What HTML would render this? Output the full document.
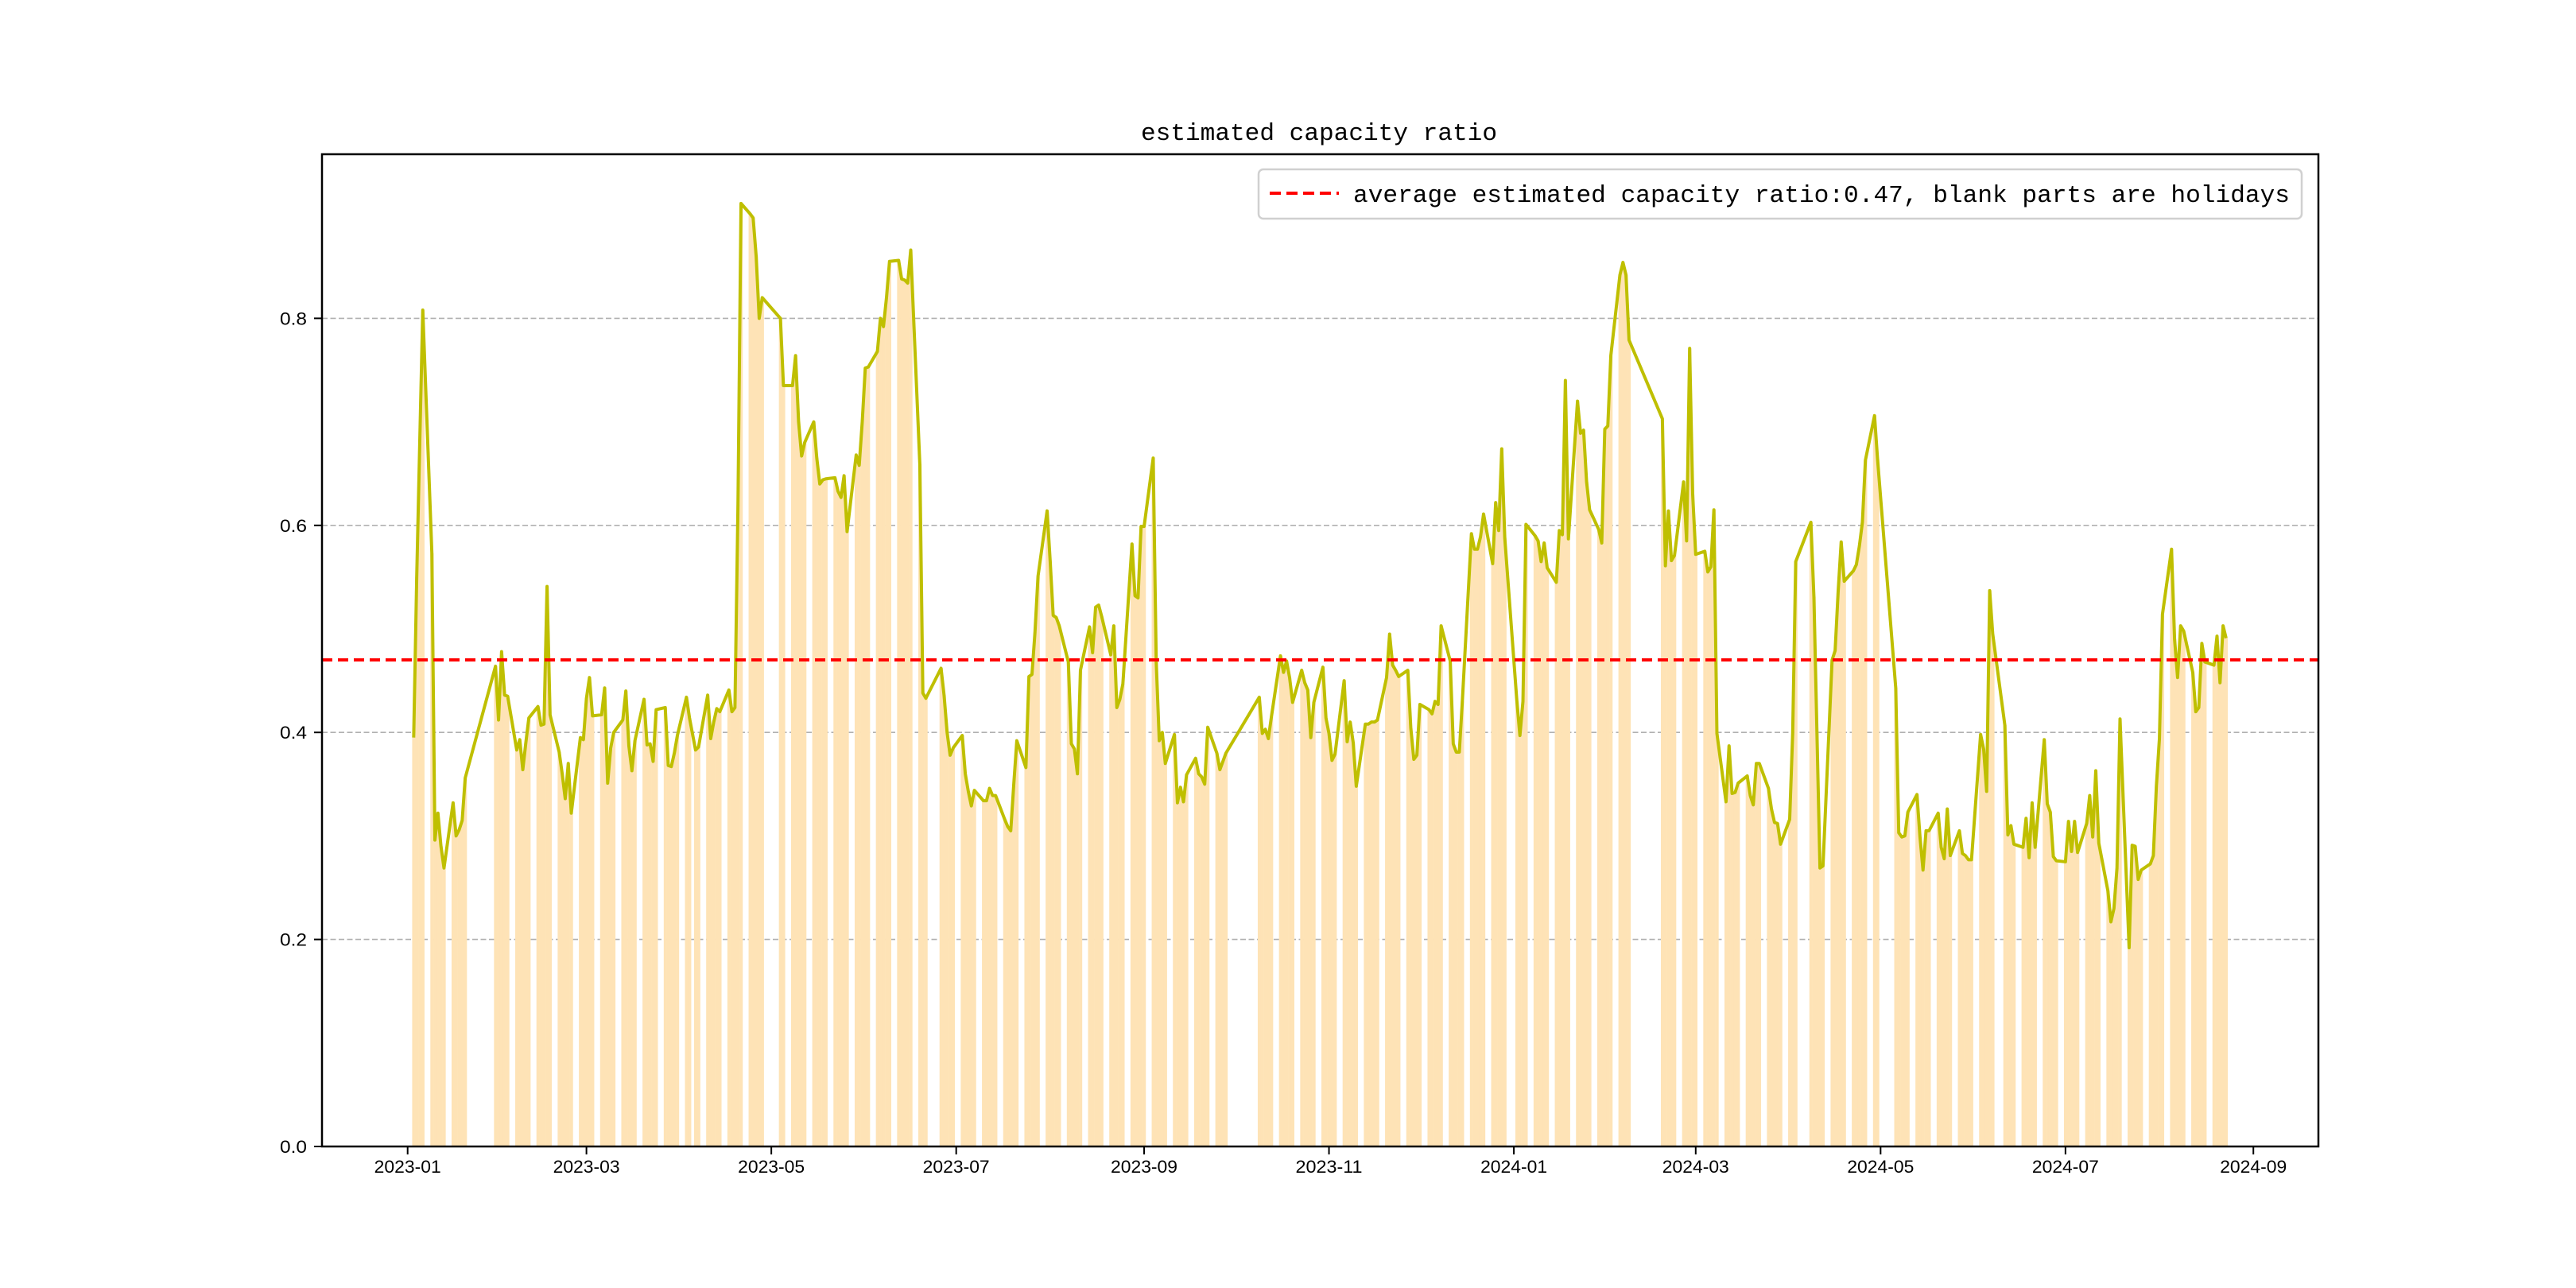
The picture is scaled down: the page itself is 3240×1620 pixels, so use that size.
<!DOCTYPE html>
<html><head><meta charset="utf-8"><style>
html,body{margin:0;padding:0;background:#fff;}
svg{display:block;}
text{font-family:"Liberation Sans","Noto Sans CJK SC",sans-serif;fill:#000;}
.mono{font-family:"Liberation Mono","Noto Sans CJK SC",monospace;}
</style></head><body>
<svg id="chart" width="3240" height="1620" viewBox="0 0 3240 1620" xmlns="http://www.w3.org/2000/svg">
<rect x="0" y="0" width="3240" height="1620" fill="#fff"/>
<g id="grid"></g>
<g id="bars"></g>
<g id="lines"></g>
<rect x="405" y="194" width="2511" height="1248" fill="none" stroke="#000" stroke-width="2.5"/>
<g id="yticks"></g>
<g id="xticks"></g>
<text class="mono" x="1659" y="176" text-anchor="middle" font-size="31" textLength="448" lengthAdjust="spacingAndGlyphs">estimated capacity ratio</text>
<g>
<rect x="1583" y="213" width="1312" height="62" rx="6" fill="#fff" fill-opacity="0.8" stroke="#d0d0d0" stroke-width="2.5"/>
<line x1="1597" y1="243" x2="1684" y2="243" stroke="#ff0000" stroke-width="4" stroke-dasharray="14,7"/>
<text class="mono" x="1702" y="254" font-size="31" textLength="1178" lengthAdjust="spacingAndGlyphs">average estimated capacity ratio:0.47, blank parts are holidays</text>
</g>
</svg>
<script>
const values = [
0.395,0.55,0.68,0.808, 0.573,0.296,0.322,0.29,0.269, 0.332,0.30,0.306,0.315,0.356,
0.464,0.412,0.478,0.436,0.435,
0.383,0.393,0.364,0.39,0.414,
0.425,0.407,0.408,0.541,0.417,
0.381,0.36,0.336,0.37,0.322,
0.395,0.393,0.433,0.453,0.416,
0.417,0.443,0.351,0.385,0.40,
0.412,0.44,0.387,0.363,0.392,
0.432,0.388,0.389,0.372,0.422,
0.424,0.368,0.367,0.38,0.397,
0.434,0.414,0.383,0.386,
0.436,0.394,0.41,0.423,0.42,
0.441,0.42,0.424,0.62,0.911,
0.901,0.897,0.86,0.80,0.82,
0.80,0.735,
0.735,0.764,0.70,0.667,0.68,
0.70,0.665,0.64,0.644,0.645,
0.646,0.633,0.627,0.648,0.594,
0.668,0.658,0.70,0.752,0.753,
0.768,0.80,0.792,0.82,0.855,
0.856,0.838,0.837,0.834,0.866,
0.659,0.438,0.433,
0.462,0.436,0.40,0.378,0.385,
0.397,0.36,0.343,0.329,0.344,
0.334,0.334,0.346,0.339,0.339,
0.316,0.309,0.305,0.35,0.392,
0.366,0.454,0.456,0.497,0.551,
0.614,0.566,0.513,0.511,0.503,
0.468,0.389,0.384,0.36,0.46,
0.502,0.477,0.521,0.523,0.512,
0.475,0.503,0.424,0.432,0.447,
0.582,0.532,0.53,0.599,0.599,
0.665,0.468,0.392,0.40,0.37,
0.398,0.332,0.347,0.333,0.359,
0.375,0.36,0.357,0.35,0.405,
0.38,0.364,0.372,0.38,
0.434,0.399,0.403,0.394,0.415,
0.474,0.458,0.469,0.453,0.429,
0.46,0.448,0.441,0.395,0.429,
0.463,0.414,0.399,0.373,0.379,
0.45,0.391,0.41,0.39,0.348,
0.408,0.408,0.41,0.41,0.412,
0.453,0.495,0.465,0.46,0.454,
0.46,0.404,0.374,0.378,0.427,
0.422,0.418,0.43,0.427,0.503,
0.469,0.389,0.381,0.381,0.43,
0.592,0.577,0.577,0.589,0.611,
0.563,0.622,0.595,0.674,0.588,
0.43,0.397,0.43,0.601,
0.59,0.585,0.565,0.583,0.559,
0.545,0.595,0.591,0.74,0.587,
0.72,0.689,0.692,0.642,0.615,
0.596,0.583,0.693,0.696,0.764,
0.842,0.854,0.842,0.779,
0.703,0.561,0.614,0.566,0.571,
0.642,0.585,0.771,0.63,0.572,
0.575,0.555,0.56,0.615,0.399,
0.333,0.387,0.341,0.342,0.351,
0.358,0.339,0.33,0.37,0.37,
0.346,0.326,0.313,0.312,0.292,
0.316,0.399,0.565,
0.603,0.531,0.40,0.269,0.271,
0.47,0.479,0.536,0.584,0.546,
0.556,0.562,0.58,0.603,0.663,
0.706,0.664,
0.443,0.303,0.299,0.30,0.323,
0.34,0.299,0.267,0.305,0.305,
0.322,0.289,0.278,0.326,0.281,
0.305,0.283,0.281,0.277,0.277,
0.398,0.384,0.343,0.537,0.495,
0.407,0.301,0.31,0.292,
0.289,0.317,0.279,0.332,0.289,
0.393,0.331,0.323,0.28,0.276,
0.275,0.314,0.285,0.314,0.284,
0.312,0.339,0.299,0.363,0.293,
0.247,0.217,0.23,0.269,0.413,
0.192,0.291,0.29,0.258,0.267,
0.273,0.281,0.348,0.394,0.514,
0.577,0.49,0.453,0.503,0.498,
0.458,0.42,0.424,0.486,0.468,
0.465,0.493,0.448,0.503,0.491
];
const averageRatio = 0.47;
const startDate = "2023-01-03";
const endDate = "2024-08-23";
const holidays = ["2023-01-02","2023-01-23","2023-01-24","2023-01-25","2023-01-26","2023-01-27","2023-04-05","2023-05-01","2023-05-02","2023-05-03","2023-06-22","2023-06-23","2023-09-29","2023-10-02","2023-10-03","2023-10-04","2023-10-05","2023-10-06","2024-01-01","2024-02-09","2024-02-12","2024-02-13","2024-02-14","2024-02-15","2024-02-16","2024-04-04","2024-04-05","2024-05-01","2024-05-02","2024-05-03","2024-06-10"];
const yTicks = [0.0,0.2,0.4,0.6,0.8];
const yTickLabels = ["0.0","0.2","0.4","0.6","0.8"];
const xTickLabels = ["2023-01","2023-03","2023-05","2023-07","2023-09","2023-11","2024-01","2024-03","2024-05","2024-07","2024-09"];

const NS = "http://www.w3.org/2000/svg";
const DAY = 86400000;
const epoch = Date.UTC(2023,0,1);
function dayNum(s){const p=s.split("-").map(Number);return (Date.UTC(p[0],p[1]-1,p[2]||1)-epoch)/DAY;}
function xScale(d){return 512.7+3.812*d;}
function yScale(v){return 1442-1302*v;}
function mk(tag,attrs,parent){const e=document.createElementNS(NS,tag);for(const k in attrs)e.setAttribute(k,attrs[k]);parent.appendChild(e);return e;}

// trading days
const hol = new Set(holidays);
const days = [];
for(let d=dayNum(startDate); d<=dayNum(endDate); d++){
  const dt=new Date(epoch+d*DAY); const wd=dt.getUTCDay();
  const iso=dt.toISOString().slice(0,10);
  if(wd===0||wd===6||hol.has(iso))continue;
  days.push(d);
}
const n = Math.min(days.length, values.length);

const grid=document.getElementById('grid');
yTicks.forEach((v,i)=>{
  if(v===0)return;
  const l=mk('line',{x1:405,x2:2916,y1:yScale(v),y2:yScale(v),stroke:'#b0b0b0','stroke-width':1.6,'stroke-dasharray':'7,3.5'},grid);
  
  
});

const bars=document.getElementById('bars');
for(let i=0;i<n;i++){
  const d=days[i];
  const r=mk('rect',{x:xScale(d-0.5),y:yScale(values[i]),width:3.812*1.0+0.3,height:yScale(0)-yScale(values[i]),fill:'#fee3b6'},bars);
  
  
}

const lines=document.getElementById('lines');
const pts=[];
for(let i=0;i<n;i++)pts.push(xScale(days[i]).toFixed(2)+','+yScale(values[i]).toFixed(2));
const pl=mk('polyline',{points:pts.join(' '),fill:'none',stroke:'#bfbf00','stroke-width':4,'stroke-linejoin':'round'},lines);


const av=mk('line',{x1:405,x2:2916,y1:yScale(averageRatio),y2:yScale(averageRatio),stroke:'#ff0000','stroke-width':4,'stroke-dasharray':'13,7'},lines);



const yt=document.getElementById('yticks');
yTicks.forEach((v,i)=>{
  const tk=mk('line',{x1:395,x2:405,y1:yScale(v),y2:yScale(v),stroke:'#000','stroke-width':2},yt);
  
  
  const t=mk('text',{x:386,y:yScale(v)+8,'text-anchor':'end','font-size':22,textLength:34,lengthAdjust:'spacingAndGlyphs'},yt);
  t.textContent=yTickLabels[i];
  
  
});
const xt=document.getElementById('xticks');
xTickLabels.forEach(lbl=>{
  const x=xScale(dayNum(lbl+"-01"));
  const tk=mk('line',{x1:x,x2:x,y1:1442,y2:1452,stroke:'#000','stroke-width':2},xt);
  
  
  const t=mk('text',{x:x,y:1475,'text-anchor':'middle','font-size':22,textLength:84,lengthAdjust:'spacingAndGlyphs'},xt);
  t.textContent=lbl;
  
  
});
</script>
</body></html>
